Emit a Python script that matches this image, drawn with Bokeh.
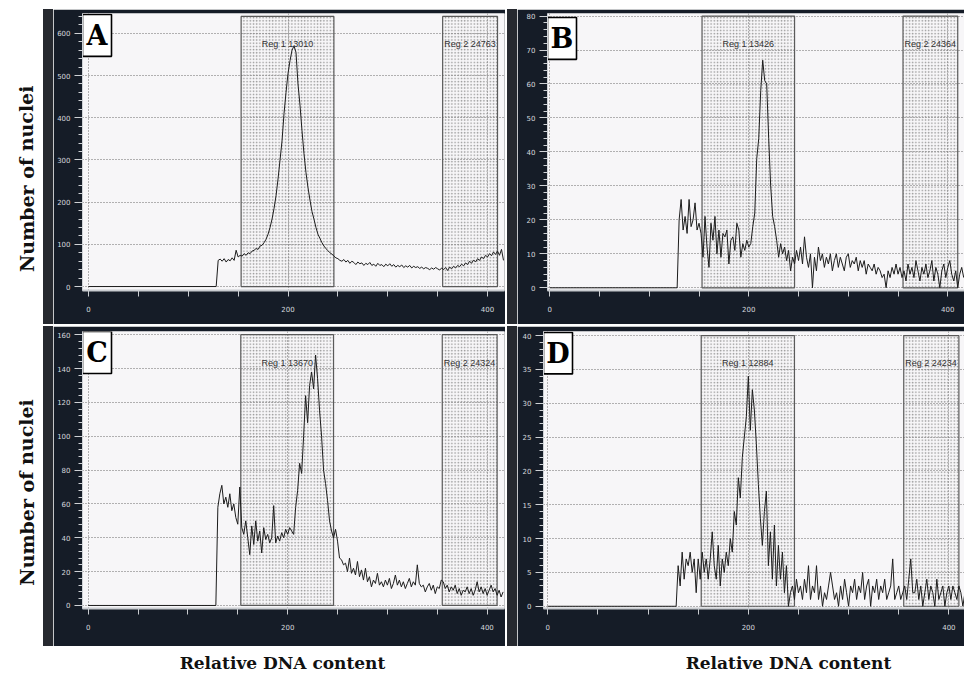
from bokeh.plotting import figure
from bokeh.layouts import column, row
from bokeh.models import Range1d, FixedTicker, SingleIntervalTicker, Spacer
from bokeh.core.properties import value
from bokeh.embed import file_html
from bokeh.resources import INLINE

# ---------------- data ----------------
ONSET = 130          # first non-zero channel
STEP = 2             # channel step of the value lists below

A_vals = [62, 65, 60, 66, 58, 64, 61, 68, 62, 86, 70, 74,
          72, 78, 74, 80, 78, 84, 86, 90, 88, 96, 98, 104, 112,
          124, 140, 160, 185, 215, 255, 300, 345, 410, 460, 505, 535, 560, 570, 555,
          480, 430, 370, 315, 270, 235, 205, 178, 160, 140, 124, 114, 104, 96, 90,
          85, 80, 77, 72, 68,
          66, 62, 60, 64, 58, 62, 55, 60, 57, 52, 58, 54, 56, 50, 55, 52, 57, 50, 53, 48,
          55, 50, 52, 47, 53, 49, 54, 48, 52, 46, 50, 47, 51, 45, 49, 46, 50, 44, 48, 45,
          47, 43, 46, 42, 45, 43, 40, 44, 41, 45, 42, 39, 44,
          40, 45, 38, 46, 42, 48, 44, 50, 47, 53, 49, 56, 52, 60, 55, 63, 58, 66, 62, 70,
          66, 74, 70, 78, 73, 82, 76, 84, 74, 88, 62]

B_vals = [20, 26, 17, 21, 16, 26, 18, 20, 25, 17, 19, 16,
          9, 21, 12, 6, 19, 14, 21, 10, 17, 9, 16, 15, 17, 7, 14, 15, 11, 19, 17, 9,
          13, 11, 14, 12, 13, 18,
          22, 38, 44, 58, 67, 61, 60, 44, 30, 21, 18, 14, 9, 13, 10, 12, 8, 11, 5, 9, 7, 11,
          8, 12, 7, 15, 9, 6, 10, 0, 9, 5, 12, 8, 10, 6, 9, 7, 10, 5, 8, 10,
          6, 9, 7, 5, 9, 10, 6, 8, 7, 9, 5, 8, 6, 8, 4, 7, 6, 5, 7, 4,
          6, 5, 3, 4, 0, 5, 3, 6, 4, 7, 4, 6, 3,
          5, 2, 7, 4, 6, 3, 8, 5, 2, 6, 4, 7, 3, 5, 8, 2, 6, 4, 0, 5,
          7, 3, 6, 8, 4, 2, 5, 0, 4, 6, 3]

C_vals = [58, 66, 71, 60, 64, 58, 66, 56, 60, 52, 48, 70,
          46, 42, 50, 40, 30, 47, 36, 50, 38, 44, 31, 46, 39, 42, 37, 40, 59, 37, 41, 38,
          43, 40, 45, 42, 46, 44,
          42, 58, 68, 84, 78, 100, 124, 108, 130, 138, 128, 148, 134, 115, 100, 80, 72, 62,
          50, 44, 40, 45, 38, 28,
          27, 24, 25, 20, 28, 19, 22, 18, 26, 17, 21, 15, 22, 14, 17, 11, 15, 13, 19, 12,
          14, 11, 15, 12, 16, 10, 13, 18, 12, 15, 11, 14, 10, 13, 16, 11, 14, 12, 24, 13,
          11, 12, 8, 11, 13, 9, 12, 7, 11, 10, 15,
          14, 10, 12, 8, 11, 9, 12, 7, 10, 6, 9, 8, 11, 7, 10, 6, 9, 14, 8, 11,
          7, 10, 6, 9, 12, 8, 10, 6, 9, 5, 8]

D_vals = [6, 3, 8, 4, 7, 6, 8, 5, 7, 2, 7, 4,
          8, 5, 7, 4, 7, 11, 6, 4, 9, 3, 7, 5, 8, 6, 10, 8, 14, 12, 19, 16,
          22, 25, 28, 34, 26, 32, 29, 24, 18, 13, 9, 14, 17, 6, 11, 4, 12, 3, 9, 4,
          8, 2, 6, 0, 2,
          3, 1, 4, 2, 3, 1, 4, 2, 6, 1, 3, 2, 6, 1, 3, 0, 2, 1, 3, 5,
          3, 1, 2, 0, 3, 1, 4, 2, 0, 3, 2, 4, 1, 3, 2, 5, 1, 3, 4, 0,
          3, 2, 4, 1, 3, 2, 4, 1, 2, 3, 7, 1, 2, 3, 1, 2,
          3, 1, 4, 7, 2, 2, 4, 1, 3, 0, 2, 4, 1, 3, 2, 0, 4, 1, 2, 3,
          0, 2, 3, 1, 3, 2, 1, 3, 2, 0, 2]

REG1 = [153, 246]
REG2 = [355, 410]
REG1_COUNTS = ["13010", "13426", "13670", "12884"]
REG2_COUNTS = ["24763", "24364", "24324", "24234"]
LETTERS = ["A", "B", "C", "D"]
Y_STEPS = [100, 10, 20, 5]
REG_TOPS = [640, 80, 160, 40]
X_TICKS = [0, 50, 100, 150, 200, 250, 300, 350, 400]
X_LABELLED = [0, 200, 400]

DARK = "#151c27"
STRIP = "#26292f"
PAPER = "#f7f6f8"
SERIF = "DejaVu Serif"


def channel_series(vals):
    xs = [0, ONSET - 2] + [ONSET + STEP * i for i in range(len(vals))]
    ys = [0, 0] + list(vals)
    return xs, ys


def panel(idx, vals, w, h, bl, br, bt, bb, xr, yr, box_top_px):
    p = figure(width=w, height=h, output_backend="svg", toolbar_location=None,
               x_range=Range1d(*xr), y_range=Range1d(*yr),
               min_border_left=bl, min_border_right=br,
               min_border_top=bt, min_border_bottom=bb)
    p.border_fill_color = DARK
    p.background_fill_color = PAPER
    p.outline_line_color = None
    fw = w - bl - br
    fh = h - bt - bb
    ux = (xr[1] - xr[0]) / fw
    uy = (yr[1] - yr[0]) / fh

    # axes
    yax = p.yaxis[0]
    yax.ticker = SingleIntervalTicker(interval=Y_STEPS[idx], num_minor_ticks=5)
    yax.axis_line_color = "#cfd2d6"
    yax.major_tick_line_color = "#cfd2d6"
    yax.minor_tick_line_color = "#cfd2d6"
    yax.major_tick_out = 8
    yax.major_tick_in = 0
    yax.minor_tick_out = 4
    yax.minor_tick_in = 0
    yax.major_label_text_color = "#d6d9de"
    yax.major_label_text_font = "DejaVu Sans"
    yax.major_label_text_font_size = "7px"
    yax.major_label_standoff = 4

    xax = p.xaxis[0]
    xax.ticker = FixedTicker(ticks=X_TICKS)
    xax.major_label_overrides = {t: "" for t in X_TICKS if t not in X_LABELLED}
    xax.axis_line_color = "#c9ccd0"
    xax.axis_line_width = 2
    xax.major_tick_line_color = "#c9ccd0"
    xax.major_tick_out = 6
    xax.major_tick_in = 0
    xax.minor_tick_line_color = None
    xax.major_label_text_color = "#d6d9de"
    xax.major_label_text_font = "DejaVu Sans"
    xax.major_label_text_font_size = "7px"
    xax.major_label_standoff = 9

    # grids
    p.ygrid.grid_line_color = "#6a6a6a"
    p.ygrid.grid_line_dash = "1 2"
    p.ygrid.grid_line_width = 1
    p.xgrid.ticker = FixedTicker(ticks=X_LABELLED)
    p.xgrid.grid_line_color = "#6a6a6a"
    p.xgrid.grid_line_dash = "1 2"
    p.xgrid.grid_line_width = 1

    # regions
    rt = REG_TOPS[idx]
    p.quad(left=[REG1[0], REG2[0]], right=[REG1[1], REG2[1]], bottom=[0, 0], top=[rt, rt],
           fill_alpha=0, hatch_pattern="dot", hatch_color="#8c8c8c", hatch_scale=3.2,
           hatch_weight=1, hatch_alpha=0.9, line_color="#5a5a5a", line_width=1.2)

    # histogram
    xs, ys = channel_series(vals)
    p.line(xs, ys, line_color="#1c1c1c", line_width=1)

    # region labels
    ly = rt - 28 * uy
    p.text(x=[(REG1[0] + REG1[1]) / 2], y=[ly], text=["Reg 1 " + REG1_COUNTS[idx]],
           text_font=value("Liberation Sans"), text_font_size="9px", text_color="#333333",
           text_align="center", text_baseline="middle")
    p.text(x=[REG2[0] + 1.5 * ux], y=[ly], text=["Reg 2 " + REG2_COUNTS[idx]],
           text_font=value("Liberation Sans"), text_font_size="9px", text_color="#333333",
           text_align="left", text_baseline="middle")

    # panel letter box
    bx0 = xr[0]
    bx1 = xr[0] + 29 * ux
    by1 = yr[1] - box_top_px * uy
    by0 = yr[1] - (box_top_px + 42) * uy
    p.quad(left=[bx0], right=[bx1], bottom=[by0], top=[by1],
           fill_color="white", line_color="black", line_width=1.6)
    p.text(x=[(bx0 + bx1) / 2], y=[(by0 + by1) / 2], text=[LETTERS[idx]],
           text_font=value(SERIF), text_font_style="bold", text_font_size="27px",
           text_color="black", text_align="center", text_baseline="middle")
    return p


def side_label(h, y_center):
    f = figure(width=43, height=h, output_backend="svg", toolbar_location=None,
               x_range=Range1d(0, 43), y_range=Range1d(0, h), min_border=0,
               x_axis_location=None, y_axis_location=None)
    f.grid.visible = False
    f.outline_line_color = None
    f.background_fill_color = "white"
    f.border_fill_color = "white"
    f.text(x=[26], y=[y_center], text=["Number of nuclei"], angle=1.5708,
           text_font=value(SERIF), text_font_style="bold", text_font_size="19px",
           text_color="#111111", text_align="center", text_baseline="middle")
    return f


def strip(h):
    return Spacer(width=10, height=h, styles={"background-color": STRIP})


pA = panel(0, A_vals, 452, 315, 29, 1, 3, 34, (-6.0, 417.0), (-9.4, 647.0), 1)
pB = panel(1, B_vals, 447, 315, 30, 0, 4, 33, (-2.3, 416.8), (-0.8, 80.75), 4)
pC = panel(2, C_vals, 452, 320, 29, 1, 5, 38, (-5.7, 417.4), (-1.8, 161.9), 0)
pD = panel(3, D_vals, 447, 320, 26, 0, 4, 35, (-4.3, 415.6), (-0.33, 40.6), 1)

bottom = figure(width=964, height=27, output_backend="svg", toolbar_location=None,
                x_range=Range1d(0, 964), y_range=Range1d(0, 27), min_border=0,
                x_axis_location=None, y_axis_location=None)
bottom.grid.visible = False
bottom.outline_line_color = None
bottom.background_fill_color = "white"
bottom.border_fill_color = "white"
bottom.text(x=[282, 788], y=[11, 11], text=["Relative DNA content", "Relative DNA content"],
            text_font=value(SERIF), text_font_style="bold", text_font_size="17px",
            text_color="#111111", text_align="center", text_baseline="middle")

layout = column(
    Spacer(width=964, height=9),
    row(side_label(315, 127), strip(315), pA, Spacer(width=2, height=315), strip(315), pB),
    Spacer(width=964, height=2),
    row(side_label(320, 134), strip(320), pC, Spacer(width=2, height=320), strip(320), pD),
    bottom,
)

open("out.html", "w").write(file_html(layout, INLINE))
